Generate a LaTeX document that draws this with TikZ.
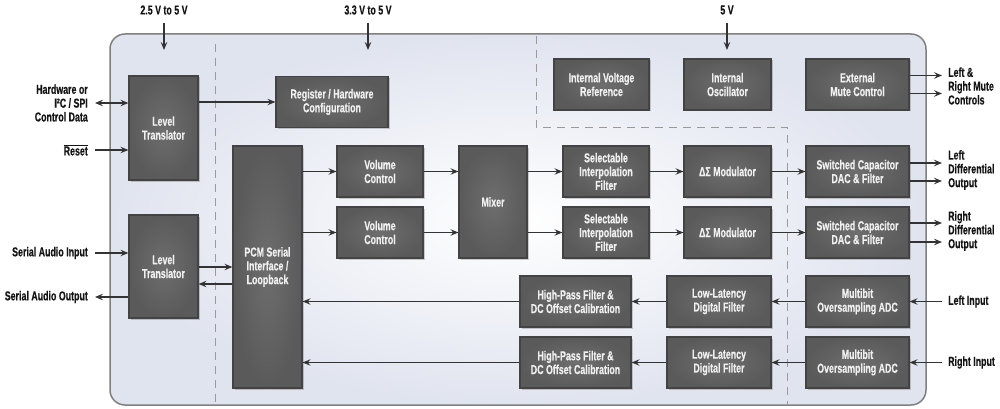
\documentclass[tikz,border=0pt]{standalone}
\usepackage{fontspec}
\setmainfont{Liberation Sans}[FakeStretch=0.68, BoldFeatures={FakeBold=0.4}]
\usetikzlibrary{arrows.meta,shadows}
\definecolor{boxedge}{HTML}{434343}
\definecolor{boxin}{HTML}{6E6E6E}
\definecolor{boxout}{HTML}{5A5A5A}
\definecolor{boxtext}{HTML}{F0F0F0}
\definecolor{arrc}{HTML}{333333}
\definecolor{lblc}{HTML}{151515}
\definecolor{dashc}{HTML}{9A9A9A}
\definecolor{bgout}{HTML}{E0E4EF}
\definecolor{bgedge}{HTML}{808080}
\tikzset{
  blk/.style={draw=boxedge, line width=1.2pt, inner color=boxin, outer color=boxout,
    text=boxtext, font=\bfseries\fontsize{13}{13.8}\selectfont, align=center,
    inner sep=0pt, minimum height=51pt,
    drop shadow={shadow xshift=1.5pt, shadow yshift=-1.5pt, opacity=0.18, fill=black}},
  arr/.style={draw=arrc, line width=1.4pt, -{Stealth[length=8pt,width=6.5pt,inset=3pt]}},
  darr/.style={draw=arrc, line width=1.4pt, {Stealth[length=8pt,width=6.5pt,inset=3pt]}-{Stealth[length=8pt,width=6.5pt,inset=3pt]}},
  lbl/.style={font=\bfseries\fontsize{13}{13.8}\selectfont, text=lblc, inner sep=0pt},
  dsh/.style={draw=dashc, line width=1pt, dash pattern=on 8pt off 6pt},
}
\begin{document}
\begin{tikzpicture}[x=1pt,y=-1pt]
\useasboundingbox (0,0) rectangle (1000,409);
% background panel
\path[rounded corners=15pt, inner color=white, outer color=bgout] (110,34) rectangle (926,405);
\draw[rounded corners=15pt, draw=bgedge, line width=1.5pt] (110,34) rectangle (926,405);
% dashed domain borders
\draw[dsh] (215,44) -- (215,405);
\draw[dsh] (536,36) -- (536,127) -- (787,127) -- (787,405);

% supply labels
\node[lbl] (v1) at (164,10) {2.5 V to 5 V};
\node[lbl] (v2) at (368,10) {3.3 V to 5 V};
\node[lbl] (v3) at (727,10) {5 V};
\coordinate (v1a) at (164,23); \coordinate (v1b) at (164,50);
\coordinate (v2a) at (368,23); \coordinate (v2b) at (368,50);
\coordinate (v3a) at (727,23); \coordinate (v3b) at (727,50);
\draw[arr] (v1a) -- (v1b);
\draw[arr] (v2a) -- (v2b);
\draw[arr] (v3a) -- (v3b);

% blocks
\node[blk, minimum width=69pt, minimum height=104pt] (lt1) at (163.5,128) {Level\\Translator};
\node[blk, minimum width=112pt] (reg) at (332,102) {Register / Hardware\\Configuration};
\node[blk, minimum width=69pt, minimum height=103pt] (lt2) at (163.5,266.5) {Level\\Translator};
\node[blk, minimum width=69pt, minimum height=242pt] (pcm) at (267.5,267) {PCM Serial\\Interface /\\Loopback};
\node[blk, minimum width=86pt] (vc1) at (380,171.5) {Volume\\Control};
\node[blk, minimum width=86pt] (vc2) at (380,232.5) {Volume\\Control};
\node[blk, minimum width=68pt, minimum height=112pt] (mix) at (493,202) {Mixer};
\node[blk, minimum width=86pt] (sel1) at (606,171.5) {Selectable\\Interpolation\\Filter};
\node[blk, minimum width=86pt] (sel2) at (606,232.5) {Selectable\\Interpolation\\Filter};
\node[blk, minimum width=87pt] (ds1) at (727.5,171.5) {ΔΣ Modulator};
\node[blk, minimum width=87pt] (ds2) at (727.5,232.5) {ΔΣ Modulator};
\node[blk, minimum width=103pt] (sw1) at (857.5,171.5) {Switched Capacitor\\DAC \& Filter};
\node[blk, minimum width=103pt] (sw2) at (857.5,232.5) {Switched Capacitor\\DAC \& Filter};
\node[blk, minimum width=95pt] (ivr) at (601.5,84.5) {Internal Voltage\\Reference};
\node[blk, minimum width=87pt] (osc) at (727.5,84.5) {Internal\\Oscillator};
\node[blk, minimum width=103pt] (mute) at (857.5,84.5) {External\\Mute Control};
\node[blk, minimum width=103pt] (adc1) at (857.5,301.5) {Multibit\\Oversampling ADC};
\node[blk, minimum width=103pt] (adc2) at (857.5,362.5) {Multibit\\Oversampling ADC};
\node[blk, minimum width=104pt] (ll1) at (719,301.5) {Low-Latency\\Digital Filter};
\node[blk, minimum width=104pt] (ll2) at (719,362.5) {Low-Latency\\Digital Filter};
\node[blk, minimum width=111pt] (hp1) at (575.5,301.5) {High-Pass Filter \&\\DC Offset Calibration};
\node[blk, minimum width=111pt] (hp2) at (575.5,362.5) {High-Pass Filter \&\\DC Offset Calibration};

% left external labels
\node[lbl, anchor=east, align=right] (hw) at (88,103) {Hardware or\\I²C / SPI\\Control Data};
\node[lbl, anchor=east] (rst) at (88,150) {$\overline{\mbox{Reset}}$};
\node[lbl, anchor=east] (sai) at (88,253) {Serial Audio Input};
\node[lbl, anchor=east] (sao) at (88,297) {Serial Audio Output};
\coordinate (hwp) at (95,103);
\coordinate (rstp) at (95,150);
\coordinate (saip) at (95,253);
\coordinate (saop) at (95,297);
\draw[darr] (hwp) -- (hwp -| lt1.west);
\draw[arr] (rstp) -- (rstp -| lt1.west);
\draw[arr] (saip) -- (saip -| lt2.west);
\draw[arr] (saop -| lt2.west) -- (saop);

% level translators
\draw[arr] (lt1.east |- reg.west) -- (reg.west);
\coordinate (lp1) at (0,267);
\coordinate (lp2) at (0,284);
\draw[arr] (lt2.east |- lp1) -- (pcm.west |- lp1);
\draw[arr] (pcm.west |- lp2) -- (lt2.east |- lp2);

% playback path
\draw[arr] (pcm.east |- vc1.west) -- (vc1.west);
\draw[arr] (pcm.east |- vc2.west) -- (vc2.west);
\draw[arr] (vc1.east) -- (mix.west |- vc1.east);
\draw[arr] (vc2.east) -- (mix.west |- vc2.east);
\draw[arr] (mix.east |- sel1.west) -- (sel1.west);
\draw[arr] (mix.east |- sel2.west) -- (sel2.west);
\draw[arr] (sel1.east) -- (ds1.west);
\draw[arr] (sel2.east) -- (ds2.west);
\draw[arr] (ds1.east) -- (sw1.west);
\draw[arr] (ds2.east) -- (sw2.west);

% record path
\draw[arr] (adc1.west) -- (ll1.east);
\draw[arr] (adc2.west) -- (ll2.east);
\draw[arr] (ll1.west) -- (hp1.east);
\draw[arr] (ll2.west) -- (hp2.east);
\draw[arr] (hp1.west) -- (pcm.east |- hp1.west);
\draw[arr] (hp2.west) -- (pcm.east |- hp2.west);

% right external labels
\node[lbl, anchor=west, align=left] (mlbl) at (948,86) {Left \&\\Right Mute\\Controls};
\node[lbl, anchor=west, align=left] (ldo) at (948,170) {Left\\Differential\\Output};
\node[lbl, anchor=west, align=left] (rdo) at (948,231) {Right\\Differential\\Output};
\node[lbl, anchor=west] (lin) at (948,301.5) {Left Input};
\node[lbl, anchor=west] (rin) at (948,362.5) {Right Input};
\coordinate (xo) at (942,0);
\draw[arr] ([yshift=9pt]mute.east) -- ([yshift=9pt]mute.east -| xo);
\draw[arr] ([yshift=-9pt]mute.east) -- ([yshift=-9pt]mute.east -| xo);
\draw[arr] ([yshift=8.5pt]sw1.east) -- ([yshift=8.5pt]sw1.east -| xo);
\draw[arr] ([yshift=-9.5pt]sw1.east) -- ([yshift=-9.5pt]sw1.east -| xo);
\draw[arr] ([yshift=9.5pt]sw2.east) -- ([yshift=9.5pt]sw2.east -| xo);
\draw[arr] ([yshift=-9.5pt]sw2.east) -- ([yshift=-9.5pt]sw2.east -| xo);
\draw[arr] (adc1.east -| xo) -- (adc1.east);
\draw[arr] (adc2.east -| xo) -- (adc2.east);
\end{tikzpicture}
\end{document}
